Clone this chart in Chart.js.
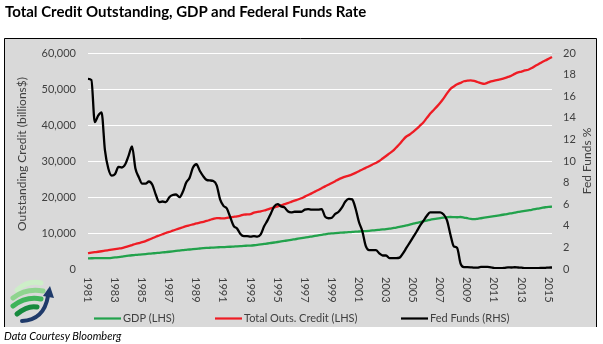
<!DOCTYPE html>
<html>
<head>
<meta charset="utf-8">
<title>Total Credit Outstanding, GDP and Federal Funds Rate</title>
<script src="https://cdn.jsdelivr.net/npm/chart.js@4/dist/chart.umd.min.js"></script>
<style>
  html, body { margin: 0; padding: 0; background: #fff; width: 603px; height: 344px; overflow: hidden; }
  #wrap { position: relative; width: 603px; height: 344px; }
  #chart { position: absolute; left: 0; top: 0; }
  #title { position: absolute; left: 5px; top: 2px; font: bold 15px Lato, sans-serif; line-height: 18px; color: #000; white-space: nowrap; }
  #source { position: absolute; left: 4px; top: 329px; font: italic 11px Lato, sans-serif; line-height: 13px; color: #000; white-space: nowrap; }
</style>
</head>
<body>
<div id="wrap">
  <canvas id="chart" width="603" height="344"></canvas>
  <div id="title">Total Credit Outstanding, GDP and Federal Funds Rate</div>
  <div id="source">Data Courtesy Bloomberg</div>
</div>
<script>
// Quarterly series, first quarter 1981 Q2.
const firstYear = 1981;
const firstQuarter = 2;

// Nominal GDP, billions $
const gdp = [
  2950, 2980, 3000, 3000, 3010, 3020, 3040, 3100, 3200, 3320,
  3450, 3600, 3720, 3820, 3900, 3980, 4060, 4150, 4250, 4330,
  4420, 4500, 4590, 4690, 4790, 4900, 5020, 5130, 5240, 5330,
  5420, 5520, 5610, 5690, 5770, 5840, 5900, 5960, 6010, 6050,
  6090, 6130, 6180, 6240, 6300, 6360, 6420, 6470, 6520, 6600,
  6700, 6820, 6950, 7080, 7220, 7360, 7500, 7650, 7800, 7950,
  8110, 8260, 8410, 8560, 8710, 8860, 9020, 9180, 9330, 9480,
  9640, 9800, 9900, 9980, 10050, 10100, 10160, 10220, 10290, 10360,
  10420, 10480, 10540, 10610, 10700, 10800, 10890, 10980, 11080, 11200,
  11350, 11500, 11680, 11900, 12130, 12330, 12580, 12800, 13000, 13230,
  13450, 13650, 13830, 14000, 14150, 14270, 14380, 14450, 14420, 14380,
  14450, 14300, 14100, 13900, 13850, 13950, 14100, 14250, 14400, 14550,
  14700, 14850, 15000, 15150, 15300, 15480, 15660, 15850, 16000, 16150,
  16300, 16450, 16620, 16800, 16980, 17150, 17250, 17300
];

// Total credit market debt outstanding, billions $
const totalCredit = [
  4400, 4530, 4660, 4790, 4930, 5080, 5230, 5380, 5530, 5680,
  5830, 6080, 6350, 6650, 6950, 7200, 7450, 7750, 8150, 8550,
  8950, 9300, 9650, 10000, 10300, 10650, 10980, 11300, 11600, 11900,
  12150, 12400, 12650, 12850, 13100, 13350, 13650, 13950, 14150, 14100,
  14050, 14200, 14350, 14500, 14650, 14850, 15100, 15150, 15250, 15650,
  15850, 16000, 16250, 16550, 16850, 17100, 17400, 17700, 18000, 18300,
  18650, 19000, 19300, 19650, 20100, 20550, 21000, 21500, 21950, 22450,
  22950, 23400, 23900, 24400, 24900, 25300, 25650, 25950, 26300, 26700,
  27150, 27650, 28100, 28550, 29050, 29450, 30000, 30700, 31400, 32100,
  32800, 33750, 34700, 35850, 36800, 37350, 38100, 38900, 39800, 40700,
  41900, 43100, 44100, 45100, 46200, 47400, 48800, 50000, 50700, 51300,
  51700, 52150, 52300, 52400, 52250, 51950, 51650, 51450, 51750, 52100,
  52350, 52550, 52750, 53000, 53350, 53700, 54200, 54600, 54850, 55150,
  55350, 55800, 56400, 56900, 57450, 57900, 58400, 58900
];

// Effective federal funds rate, %
const fedFunds = [
  17.6, 17.5, 13.6, 14.2, 14.5, 11.0, 9.3, 8.65, 8.8, 9.45,
  9.4, 9.7, 10.5, 11.35, 9.3, 8.5, 7.9, 7.9, 8.1, 7.8,
  6.9, 6.2, 6.25, 6.2, 6.65, 6.85, 6.9, 6.65, 7.15, 8.0,
  8.45, 9.4, 9.7, 9.1, 8.6, 8.25, 8.2, 8.15, 7.75, 6.45,
  5.85, 5.6, 4.8, 4.0, 3.75, 3.25, 3.05, 3.05, 3.0, 3.05,
  3.0, 3.2, 3.95, 4.5, 5.15, 5.8, 6.0, 5.8, 5.7, 5.35,
  5.25, 5.3, 5.3, 5.3, 5.5, 5.55, 5.5, 5.5, 5.5, 5.55,
  4.85, 4.7, 4.75, 5.1, 5.3, 5.7, 6.25, 6.5, 6.45, 5.6,
  4.35, 3.5, 2.15, 1.75, 1.75, 1.75, 1.45, 1.25, 1.25, 1.0,
  1.0, 1.0, 1.05, 1.45, 1.95, 2.45, 2.95, 3.45, 4.0, 4.45,
  4.9, 5.25, 5.25, 5.25, 5.25, 5.05, 4.5, 3.2, 2.1, 1.95,
  0.5, 0.18, 0.18, 0.16, 0.12, 0.13, 0.19, 0.19, 0.19, 0.16,
  0.09, 0.08, 0.07, 0.1, 0.15, 0.14, 0.16, 0.14, 0.12, 0.08,
  0.09, 0.07, 0.09, 0.09, 0.1, 0.11, 0.13, 0.14
];

// Year labels along the bottom axis
const tickYears = ['1981', '1983', '1985', '1987', '1989', '1991', '1993', '1995', '1997',
                   '1999', '2001', '2003', '2005', '2007', '2009', '2011', '2013', '2015'];

const seriesNames = ['GDP (LHS)', 'Total Outs. Credit (LHS)', 'Fed Funds (RHS)'];
const leftTitle = 'Outstanding Credit (billions$)';
const rightTitle = 'Fed Funds %';

// Category labels, one per quarter
const quarterLabels = [];
for (let i = 0; i < fedFunds.length; i++) {
  const n = firstYear * 4 + (firstQuarter - 1) + i;
  quarterLabels.push(Math.floor(n / 4) + ' Q' + (n % 4 + 1));
}

const GREEN = '#22a24c';
const RED = '#ee1c24';
const BLACK = '#000000';
const TEXT = '#404040';
const FONT = 'Lato, sans-serif';

// Paints the page frame, the grey panel, rotated year labels, axis titles, legend and logo
const decorations = {
  id: 'decorations',
  beforeDraw(chart) {
    const ctx = chart.ctx;
    ctx.save();
    ctx.fillStyle = '#ffffff';
    ctx.fillRect(0, 0, chart.width, chart.height);
    ctx.fillStyle = '#d9d9d9';
    ctx.fillRect(4, 38, 593, 289);
    ctx.strokeStyle = '#000000';
    ctx.lineWidth = 1;
    ctx.beginPath();
    ctx.moveTo(4.5, 327);
    ctx.lineTo(4.5, 38.5);
    ctx.lineTo(596.5, 38.5);
    ctx.lineTo(596.5, 327);
    ctx.stroke();
    ctx.restore();
  },
  afterDraw(chart) {
    const ctx = chart.ctx;
    const xs = chart.scales.x;
    const area = chart.chartArea;
    ctx.save();

    // year labels, reading downward
    ctx.fillStyle = TEXT;
    ctx.font = '11px ' + FONT;
    ctx.textAlign = 'left';
    ctx.textBaseline = 'alphabetic';
    tickYears.forEach(y => {
      const idx = quarterLabels.indexOf(y + ' Q' + firstQuarter);
      if (idx < 0) return;
      const px = xs.getPixelForValue(idx);
      ctx.save();
      ctx.translate(px, area.bottom + 8);
      ctx.rotate(Math.PI / 2);
      ctx.fillText(y, 0, 4);
      ctx.restore();
    });

    // axis titles, both reading upward
    ctx.font = '12px ' + FONT;
    ctx.textAlign = 'center';
    ctx.textBaseline = 'middle';
    ctx.save();
    ctx.translate(22, 154);
    ctx.rotate(-Math.PI / 2);
    ctx.fillText(leftTitle, 0, 0);
    ctx.restore();
    ctx.save();
    ctx.translate(587, 161);
    ctx.rotate(-Math.PI / 2);
    ctx.fillText(rightTitle, 0, 0);
    ctx.restore();

    // legend
    const legendY = 318.5;
    const items = [
      { x: 94, color: GREEN },
      { x: 215, color: RED },
      { x: 401, color: BLACK }
    ];
    ctx.font = '11px ' + FONT;
    ctx.textAlign = 'left';
    ctx.textBaseline = 'middle';
    items.forEach((it, k) => {
      ctx.strokeStyle = it.color;
      ctx.lineWidth = 2.2;
      ctx.beginPath();
      ctx.moveTo(it.x, legendY);
      ctx.lineTo(it.x + 27, legendY);
      ctx.stroke();
      ctx.fillStyle = TEXT;
      ctx.fillText(chart.data.datasets[k].label, it.x + 29, legendY);
    });

    // logo: green ribbons wrapped round a globe, with a navy arrow
    ctx.lineCap = 'round';
    const ribbons = [
      { c: '#cdeec8', x0: 17, y0: 290, cx: 28, cy: 280, x1: 41, y1: 283 },
      { c: '#8fd48f', x0: 13, y0: 298, cx: 26, cy: 288, x1: 43, y1: 291 },
      { c: '#3fb45a', x0: 13, y0: 306, cx: 26, cy: 296, x1: 41, y1: 299 },
      { c: '#178a3e', x0: 17, y0: 314, cx: 28, cy: 305, x1: 37, y1: 307 }
    ];
    ctx.lineWidth = 5;
    ribbons.forEach(rb => {
      ctx.strokeStyle = rb.c;
      ctx.beginPath();
      ctx.moveTo(rb.x0, rb.y0);
      ctx.quadraticCurveTo(rb.cx, rb.cy, rb.x1, rb.y1);
      ctx.stroke();
    });
    ctx.strokeStyle = '#1f3a6a';
    ctx.lineWidth = 4;
    ctx.beginPath();
    ctx.moveTo(22, 321);
    ctx.quadraticCurveTo(44, 320, 48, 296);
    ctx.stroke();
    ctx.fillStyle = '#1f3a6a';
    ctx.beginPath();
    ctx.moveTo(50, 286);
    ctx.lineTo(54, 298);
    ctx.lineTo(43, 296);
    ctx.closePath();
    ctx.fill();

    ctx.restore();
  }
};

new Chart(document.getElementById('chart'), {
  type: 'line',
  data: {
    labels: quarterLabels,
    datasets: [
      { label: seriesNames[0], data: gdp, borderColor: GREEN, yAxisID: 'yLeft', order: 2 },
      { label: seriesNames[1], data: totalCredit, borderColor: RED, yAxisID: 'yLeft', order: 1 },
      { label: seriesNames[2], data: fedFunds, borderColor: BLACK, yAxisID: 'yRight', order: 0 }
    ]
  },
  options: {
    responsive: false,
    animation: false,
    devicePixelRatio: 1,
    layout: { padding: { left: 0, right: 0, top: 53, bottom: 75 } },
    elements: {
      point: { radius: 0 },
      line: { borderWidth: 2.3, fill: false, cubicInterpolationMode: 'monotone' }
    },
    plugins: { legend: { display: false }, tooltip: { enabled: false } },
    scales: {
      x: { type: 'category', display: false, offset: false },
      yLeft: {
        position: 'left',
        min: 0, max: 60000,
        ticks: {
          stepSize: 10000, padding: 12, color: TEXT,
          font: { family: FONT, size: 11 },
          callback: v => v.toLocaleString('en-US')
        },
        grid: {
          color: c => (c.tick && c.tick.value === 0) ? 'rgba(0,0,0,0)' : '#ffffff',
          lineWidth: 1, drawTicks: false
        },
        border: { display: false },
        afterFit: s => { s.width = 88; }
      },
      yRight: {
        position: 'right',
        min: 0, max: 20,
        ticks: {
          stepSize: 2, padding: 11, color: TEXT,
          font: { family: FONT, size: 11 }
        },
        grid: { display: false, drawTicks: false },
        border: { display: false },
        afterFit: s => { s.width = 51; }
      }
    }
  },
  plugins: [decorations]
});
</script>
</body>
</html>
